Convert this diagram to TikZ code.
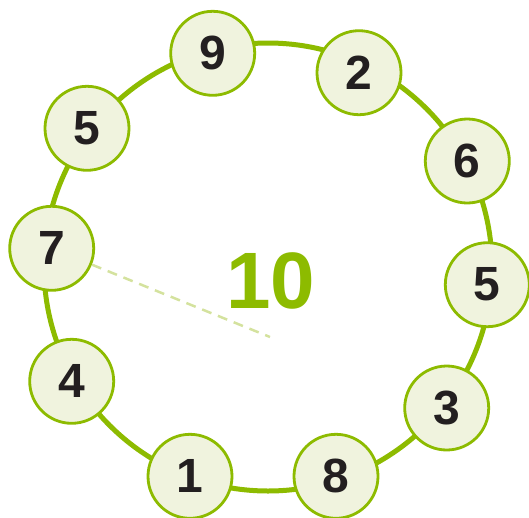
\documentclass[tikz,border=0pt]{standalone}
\usepackage{fontspec}
\setmainfont{Liberation Sans}
\definecolor{ringgreen}{RGB}{141,187,0}
\definecolor{nodefill}{RGB}{240,243,222}
\definecolor{dashgreen}{RGB}{212,226,158}
\definecolor{digit}{RGB}{35,31,32}
\begin{document}
\begin{tikzpicture}[x=1pt,y=-1pt,
  numnode/.style={circle,draw=ringgreen,line width=2.8pt,fill=nodefill,
    minimum size=84pt,inner sep=0pt,text=digit,
    font=\fontsize{48}{48}\selectfont\bfseries},
  ring/.style={draw=ringgreen,line width=5pt},
  radial/.style={draw=dashgreen,line width=2.5pt,dash pattern=on 10pt off 7pt}]
\useasboundingbox (0,0) rectangle (529,517);
\coordinate (c) at (268,267);
\coordinate (r) at (270,337);
\draw[ring] (c) circle[radius=224];
\node[text=ringgreen,font=\fontsize{80}{80}\selectfont\bfseries] (total) at (271,281) {10};
\node[numnode] (n9) at (212.7,53.3) {9};
\node[numnode] (n2) at (359,72.7) {2};
\node[numnode] (n6) at (467.3,161) {6};
\node[numnode] (n5r) at (487.3,284.7) {5};
\node[numnode] (n3) at (446.7,408) {3};
\node[numnode] (n8) at (336,476.3) {8};
\node[numnode] (n1) at (190,476.3) {1};
\node[numnode] (n4) at (71.7,381.3) {4};
\node[numnode] (n7) at (51.7,248.3) {7};
\node[numnode] (n5l) at (87,128.3) {5};
\draw[radial] (n7) -- (r);
\end{tikzpicture}
\end{document}
